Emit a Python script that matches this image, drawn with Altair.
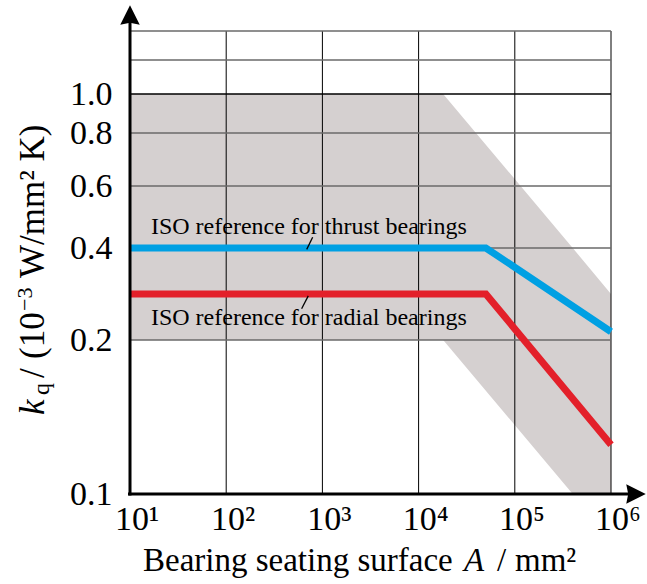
import altair as alt
import pandas as pd

# ---- data -------------------------------------------------------------
x_ticks = [1e1, 1e2, 1e3, 1e4, 1e5, 1e6]
x_tick_labels = ["10¹", "10²", "10³", "10⁴", "10⁵", "10⁶"]
y_ticks = [0.1, 0.2, 0.4, 0.6, 0.8, 1.0]
y_grid = [0.2, 0.4, 0.6, 0.8, 1.0, 1.2, 1.4]

# scatter band of measured values
band_x = [1e1, 1.8e4, 4.0e5, 1e6]
band_hi = [1.0, 1.0, 0.40, 0.30]
band_lo = [0.2, 0.2, 0.1, 0.1]

# ISO reference curves
ref_x = [1e1, 5e4, 1e6]
thrust = [0.4, 0.4, 0.218]
radial = [0.3, 0.3, 0.132]

# curve labels and their leader strokes
label_text = ["ISO reference for thrust bearings", "ISO reference for radial bearings"]
label_x = [16.5, 16.5]
label_y = [0.445, 0.233]
leader_x1 = [792, 713]
leader_y1 = [0.4345, 0.296]
leader_x2 = [687, 608]
leader_y2 = [0.397, 0.268]

# ---- layout -----------------------------------------------------------
W, H = 481, 463
FONT = "Liberation Serif"

xs = alt.Scale(type="log", domain=[1e1, 1e6], nice=False)
ys = alt.Scale(type="linear",
               domain=[0.1, 0.2, 0.4, 0.6, 0.8, 1.0, 1.2, 1.4],
               range=[463, 309, 217, 155, 102, 63, 29, 0],
               zero=False, nice=False)

band_df = pd.DataFrame({"A": band_x, "hi": band_hi, "lo": band_lo})
curves_df = pd.DataFrame({
    "A": ref_x * 2,
    "k": thrust + radial,
    "series": ["thrust"] * 3 + ["radial"] * 3,
})
labels_df = pd.DataFrame({"text": label_text, "A": label_x, "k": label_y})
leader_df = pd.DataFrame({"x1": leader_x1, "y1": leader_y1, "x2": leader_x2, "y2": leader_y2})
vgrid_df = pd.DataFrame({"A": x_ticks[1:]})
hgrid_df = pd.DataFrame({"k": y_grid})
xtick_df = pd.DataFrame({"A": x_ticks, "lab": x_tick_labels})

band = alt.Chart(band_df).mark_area(color="#D5D0D0", opacity=1, interpolate="linear").encode(
    x=alt.X("A:Q", scale=xs, axis=None),
    y=alt.Y("hi:Q", scale=ys,
            axis=alt.Axis(values=y_ticks, format=".1f",
                          labelFont=FONT, labelFontSize=34, labelColor="black",
                          labelPadding=18, labelFlush=False, labelOverlap=False,
                          domain=False, ticks=False, grid=False, title=None)),
    y2="lo:Q",
)

xtick_labels = alt.Chart(xtick_df).mark_text(
    font=FONT, fontSize=34, baseline="top", align="center", dx=7, color="black"
).encode(x=alt.X("A:Q", scale=xs), y=alt.value(H + 9), text="lab:N")

vgrid = alt.Chart(vgrid_df).mark_rule(color="black", strokeWidth=1).encode(
    x=alt.X("A:Q", scale=xs), y=alt.value(0), y2=alt.value(H))

hgrid = alt.Chart(hgrid_df).mark_rule(strokeWidth=1.5).encode(
    y=alt.Y("k:Q", scale=ys), x=alt.value(0), x2=alt.value(W),
    color=alt.condition(alt.datum.k == 1.0, alt.value("black"), alt.value("#6a6a6a")))

curves = alt.Chart(curves_df).mark_line(strokeWidth=7, strokeJoin="miter", strokeCap="butt").encode(
    x=alt.X("A:Q", scale=xs), y=alt.Y("k:Q", scale=ys),
    color=alt.Color("series:N", scale=alt.Scale(domain=["thrust", "radial"],
                                                range=["#00A0E3", "#E3202A"]), legend=None),
    detail="series:N")

leaders = alt.Chart(leader_df).mark_rule(color="black", strokeWidth=1.3).encode(
    x=alt.X("x1:Q", scale=xs), y=alt.Y("y1:Q", scale=ys),
    x2="x2:Q", y2="y2:Q")

labels = alt.Chart(labels_df).mark_text(font=FONT, fontSize=24, align="left",
                                        baseline="alphabetic", color="black").encode(
    x=alt.X("A:Q", scale=xs), y=alt.Y("k:Q", scale=ys), text="text:N")

# axis lines with arrow heads
axis_df = pd.DataFrame({"d": [0]})
arrow_shape = "M1,0L-1,-1L-0.8,0L-1,1Z"
x_axis_line = alt.Chart(axis_df).mark_rule(color="black", strokeWidth=3).encode(
    x=alt.value(-2), x2=alt.value(W + 26), y=alt.value(H))
y_axis_line = alt.Chart(axis_df).mark_rule(color="black", strokeWidth=3).encode(
    x=alt.value(0), y=alt.value(H + 1.5), y2=alt.value(-12))
x_arrow = alt.Chart(axis_df).mark_point(shape=arrow_shape, size=380, filled=True,
                                        color="black", opacity=1).encode(
    x=alt.value(W + 25), y=alt.value(H))
y_arrow = alt.Chart(axis_df).mark_point(shape=arrow_shape, size=380, filled=True,
                                        color="black", opacity=1, angle=270).encode(
    x=alt.value(0), y=alt.value(-16))

# axis titles with italic symbols, sub- and superscripts
def txt(s, x, y, size, style="normal", angle=0):
    kw = dict(font=FONT, fontSize=size, fontStyle=style, align="left",
              baseline="alphabetic", color="black")
    if angle:
        kw["angle"] = angle
    return alt.Chart(axis_df).mark_text(text=s, **kw).encode(x=alt.value(x), y=alt.value(y))

x_title = [
    txt("Bearing seating surface", 13, 540, 33),
    txt("A", 334, 540, 33, "italic"),
    txt("/", 367, 540, 33),
    txt("mm²", 385, 540, 33),
]
y_title = [
    txt("k", -86, 384, 35, "italic", 270),
    txt("q", -81, 364, 24, "normal", 270),
    txt("/", -86, 347, 35, "normal", 270),
    txt("(10", -86, 328, 35, "normal", 270),
    txt("−3", -98, 280, 22, "normal", 270),
    txt("W/mm² K)", -86, 247, 35, "normal", 270),
]

chart = alt.layer(
    band, vgrid, hgrid, curves, leaders, labels, xtick_labels,
    x_axis_line, y_axis_line, x_arrow, y_arrow, *x_title, *y_title,
).properties(
    width=W, height=H,
    autosize=alt.AutoSizeParams(type="none"),
    padding={"left": 130, "top": 31, "right": 36, "bottom": 90},
    background="white",
).configure_view(stroke=None)

chart.save("out.html", embed_options={"renderer": "svg", "actions": False})
